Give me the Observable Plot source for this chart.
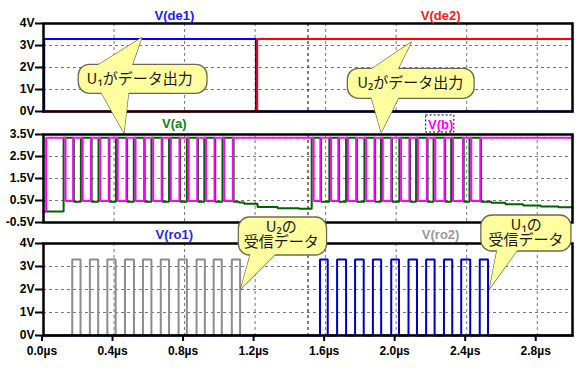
<!DOCTYPE html>
<html><head><meta charset="utf-8">
<script src="https://cdn.jsdelivr.net/npm/d3@7"></script>
<script src="https://cdn.jsdelivr.net/npm/@observablehq/plot@0.6"></script>
<style>
body{margin:0;background:#fff;}
#chart{position:relative;width:583px;height:370px;background:#fff;}
#chart svg{position:absolute;left:0;top:0;}
</style></head><body><div id="chart"></div>
<script>
// ---- axes / ticks ----
const xTicks = [0, 0.4, 0.8, 1.2, 1.6, 2.0, 2.4, 2.8];
const vTicks = [0, 1, 2, 3, 4];
const busTicks = [-0.5, 0.5, 1.5, 2.5, 3.5];
const cursorTimes = [1.5];

// ---- panel 1: driver enables ----
const de1Times = [0, 0.004, 1.205, 3.0];
const de1Values = [0, 3.3, 0, 0];
const de2Times = [0, 1.212, 3.0];
const de2Values = [0, 3.3, 3.3];

// ---- panel 2: bus lines ----
const bTimes = [0, 0.015, 0.125, 0.168, 0.222, 0.269, 0.322, 0.370, 0.421, 0.470, 0.522, 0.570, 0.622, 0.670, 0.722, 0.771, 0.823, 0.872, 0.922, 0.970, 1.025, 1.074,
  1.532, 1.570, 1.631, 1.672, 1.726, 1.773, 1.830, 1.877, 1.924, 1.972, 2.028, 2.075, 2.123, 2.174, 2.222, 2.274, 2.322, 2.379, 2.426, 2.477, 3.0];
const bValues = [0, 3.35, 0.48, 3.35, 0.48, 3.35, 0.48, 3.35, 0.48, 3.35, 0.48, 3.35, 0.48, 3.35, 0.48, 3.35, 0.48, 3.35, 0.48, 3.35, 0.48, 3.35,
  0.48, 3.35, 0.48, 3.35, 0.48, 3.35, 0.48, 3.35, 0.48, 3.35, 0.48, 3.35, 0.48, 3.35, 0.48, 3.35, 0.48, 3.35, 0.48, 3.35, 3.35];
const aTimes = [0, 0.114, 0.172, 0.212, 0.273, 0.312, 0.374, 0.411, 0.474, 0.512, 0.574, 0.612, 0.674, 0.712, 0.775, 0.813, 0.876, 0.912, 0.974, 1.015, 1.078,
  1.11, 1.138, 1.214, 1.328, 1.45,
  1.521, 1.574, 1.621, 1.676, 1.716, 1.777, 1.820, 1.881, 1.914, 1.976, 2.018, 2.079, 2.113, 2.178, 2.212, 2.278, 2.312, 2.383, 2.416, 2.481,
  2.54, 2.62, 2.72, 2.82, 2.92, 3.0];
const aValues = [0, 3.35, 0.44, 3.35, 0.44, 3.35, 0.44, 3.35, 0.44, 3.35, 0.44, 3.35, 0.44, 3.35, 0.44, 3.35, 0.44, 3.35, 0.44, 3.35, 0.44,
  0.41, 0.35, 0.20, 0.15, 0.12,
  3.35, 0.44, 3.35, 0.44, 3.35, 0.44, 3.35, 0.44, 3.35, 0.44, 3.35, 0.44, 3.35, 0.44, 3.35, 0.44, 3.35, 0.44, 3.35, 0.44,
  0.40, 0.33, 0.27, 0.23, 0.19, 0.17];

// ---- panel 3: receiver outputs ----
const ro2Times = [0, 0.163, 0.210, 0.263, 0.310, 0.362, 0.409, 0.462, 0.513, 0.564, 0.612, 0.665, 0.712, 0.766, 0.813, 0.868, 0.915, 0.965, 1.011, 1.068, 1.115, 3.0];
const ro2Values = [0, 3.3, 0, 3.3, 0, 3.3, 0, 3.3, 0, 3.3, 0, 3.3, 0, 3.3, 0, 3.3, 0, 3.3, 0, 3.3, 0, 0];
const ro1Times = [0, 1.568, 1.612, 1.665, 1.716, 1.767, 1.816, 1.868, 1.915, 1.972, 2.016, 2.070, 2.118, 2.170, 2.218, 2.271, 2.318, 2.369, 2.420, 2.474, 2.521, 3.0];
const ro1Values = [0, 3.3, 0, 3.3, 0, 3.3, 0, 3.3, 0, 3.3, 0, 3.3, 0, 3.3, 0, 3.3, 0, 3.3, 0, 3.3, 0, 0];

// ---- trace labels ----
const labels1 = ["V(de1)", "V(de2)"];
const labels2 = ["V(a)", "V(b)"];
const labels3 = ["V(ro1)", "V(ro2)"];
const labelTimes = [0.742, 2.252];

// ---- callouts (µs, V of their panel) ----
const callBoxes1 = [{t1: 0.200, t2: 0.930, v1: 0.805, v2: 2.123}, {t1: 1.726, t2: 2.445, v1: 0.577, v2: 1.940}];
const callTails1 = [
  [[0.295, 2.045], [0.557, 3.35], [0.500, 2.045]],
  [[0.324, 0.909], [0.456, -0.968], [0.483, 0.909]],
  [[1.847, 1.864], [2.085, 3.15], [2.006, 1.864]],
  [[1.858, 0.682], [1.915, -0.941], [2.017, 0.682]]
];
const callText1 = [{text: "U₁がデータ出力", t: 0.545, v: 1.455}, {text: "U₂がデータ出力", t: 2.080, v: 1.260}];
const callBoxes3 = [{t1: 1.108, t2: 1.608, v1: 3.478, v2: 5.130}, {t1: 2.483, t2: 2.994, v1: 3.652, v2: 5.217}];
const callTails3 = [
  [[1.176, 3.609], [1.119, 2.03], [1.324, 3.609]],
  [[2.574, 3.783], [2.530, 2.043], [2.693, 3.783]]
];
const callText3 = [
  {text: "U₂の\n受信データ", t: 1.348, v: 4.365},
  {text: "U₁の\n受信データ", t: 2.737, v: 4.456}
];
const vbBox = [{t1: 2.170, t2: 2.330, v1: 3.59, v2: 4.364}];

// ---- helpers ----
const pts = (ts, vs) => ts.map((t, i) => ({t, v: vs[i]}));
const W = 583, H = 370, ML = 43, MR = 11;
const FONT = "'Liberation Sans', Arial, Helvetica, sans-serif";
const GRID = "#777";
const style = {background: "transparent", overflow: "visible", fontFamily: FONT, fontWeight: "bold", fontSize: "12px", color: "black"};

function grid(yTicks) {
  return [
    Plot.ruleX(xTicks.filter(d => d > 0), {x: d => d, stroke: GRID, strokeDasharray: "3,3", strokeWidth: 1}),
    Plot.ruleY(yTicks.slice(1, -1), {y: d => d, stroke: GRID, strokeDasharray: "3,3", strokeWidth: 1}),
    Plot.ruleX(cursorTimes, {x: d => d, stroke: "black", strokeDasharray: "3,3", strokeWidth: 1})
  ];
}
function yAxis(ticks) {
  return Plot.axisY({ticks, tickFormat: d => `${d}V`, tickSize: 8, tickPadding: 1, strokeWidth: 2, fontSize: 12, fontWeight: "bold", label: null});
}
function title(text, t, color, dy) {
  return Plot.text([text], {x: () => t, frameAnchor: "top", lineAnchor: "middle", dy, text: d => d, fill: color, fontSize: 13, fontWeight: "bold"});
}
function bubbleMarks(boxes, tails, lines) {
  const tp = tails.flatMap((tri, k) => tri.map(([t, v]) => ({t, v, k})));
  const fill = "#ffffa0", stroke = "#6b6b52";
  return [
    Plot.line(tp, {x: "t", y: "v", z: "k", curve: "linear-closed", fill, stroke, strokeWidth: 1.3}),
    Plot.rect(boxes, {x1: "t1", x2: "t2", y1: "v1", y2: "v2", rx: 11, ry: 11, fill, stroke, strokeWidth: 1.3}),
    Plot.line(tp, {x: "t", y: "v", z: "k", curve: "linear-closed", fill, stroke: "none"}),
    Plot.text(lines, {x: "t", y: "v", text: "text", lineHeight: 0.97, fontFamily: "'Noto Sans CJK JP', 'Noto Sans', sans-serif", fontWeight: "normal", fontSize: 15, fill: "#1a1a1a"})
  ];
}
const trace = (ts, vs, stroke, w = 2) => Plot.line(pts(ts, vs), {x: "t", y: "v", curve: "step-after", stroke, strokeWidth: w, strokeLinejoin: "miter", strokeLinecap: "square"});
const frame = () => Plot.frame({stroke: "black", strokeWidth: 2.5});

// magenta high segments (for the dashed highlight on V(b))
const bHigh = bTimes.slice(0, -1).map((t, i) => ({t1: t, t2: bTimes[i + 1], v: bValues[i]})).filter(d => d.v > 3);

const p1 = Plot.plot({
  width: W, height: H, marginLeft: ML, marginRight: MR, marginTop: 23, marginBottom: H - 111,
  style,
  x: {domain: [0, 3.0], axis: null},
  y: {domain: [0, 4], label: null},
  marks: [
    ...grid(vTicks),
    trace(de1Times, de1Values, "#0000ff"),
    trace(de2Times, de2Values, "#ff0000"),
    frame(),
    yAxis(vTicks),
    title(labels1[0], labelTimes[0], "#1a1aff", -8),
    title(labels1[1], labelTimes[1], "#ff1a1a", -8),
    ...bubbleMarks(callBoxes1, callTails1, callText1)
  ]
});

const p2 = Plot.plot({
  width: W, height: H, marginLeft: ML, marginRight: MR, marginTop: 134, marginBottom: H - 222,
  style,
  x: {domain: [0, 3.0], axis: null},
  y: {domain: [-0.5, 3.5], label: null},
  marks: [
    ...grid(busTicks),
    trace(aTimes, aValues, "#006000"),
    trace(bTimes, bValues, "#ff00ff"),
    Plot.link(bHigh, {x1: "t1", x2: "t2", y1: "v", y2: "v", stroke: "#3cb43c", strokeWidth: 1, strokeDasharray: "3,3"}),
    frame(),
    yAxis(busTicks),
    Plot.rect(vbBox, {x1: "t1", x2: "t2", y1: "v1", y2: "v2", fill: "white", stroke: "black", strokeWidth: 1, strokeDasharray: "2,2"}),
    title(labels2[0], labelTimes[0], "#137f13", -11),
    title(labels2[1], labelTimes[1], "#ff00ff", -10)
  ]
});

const p3 = Plot.plot({
  width: W, height: H, marginLeft: ML, marginRight: MR, marginTop: 243, marginBottom: H - 335,
  style,
  x: {domain: [0, 3.0], label: null},
  y: {domain: [0, 4], label: null},
  marks: [
    ...grid(vTicks),
    trace(ro2Times, ro2Values, "#8c8c8c"),
    trace(ro1Times, ro1Values, "#0000b8"),
    frame(),
    yAxis(vTicks),
    Plot.axisX({ticks: xTicks, tickFormat: d => d.toFixed(1) + "µs", tickSize: 6, tickPadding: 5, strokeWidth: 2, fontSize: 12, fontWeight: "bold", dx: -1.5, label: null}),
    title(labels3[0], labelTimes[0], "#2a2ad0", -9),
    title(labels3[1], labelTimes[1], "#999999", -9),
    ...bubbleMarks(callBoxes3, callTails3, callText3)
  ]
});

const c = document.getElementById("chart");
c.append(p1, p2, p3);
</script></body></html>
